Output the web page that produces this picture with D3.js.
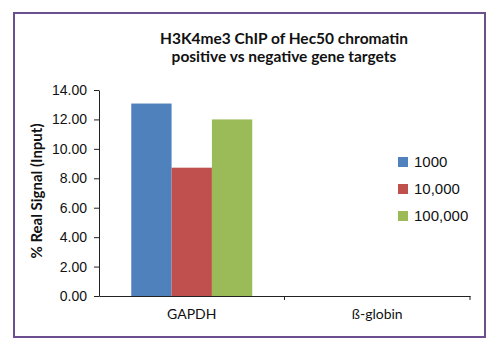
<!DOCTYPE html>
<html>
<head>
<meta charset="utf-8">
<script src="https://cdn.jsdelivr.net/npm/d3@7"></script>
<style>
  body { margin: 0; background: #fff; }
  svg text { fill: #111; }
</style>
</head>
<body>
<svg id="chart" width="504" height="351"></svg>
<script>
const categories = ["GAPDH", "ß-globin"];
const seriesNames = ["1000", "10,000", "100,000"];
const seriesColors = ["#4f81bd", "#c0504d", "#9bbb59"];
const values = [
  [13.08, 0],
  [8.72, 0],
  [12.0, 0]
];
const yTicks = [0, 2, 4, 6, 8, 10, 12, 14];
const titleLines = ["H3K4me3 ChIP of Hec50 chromatin", "positive vs negative gene targets"];

const svg = d3.select("#chart");

// frame
svg.append("rect")
  .attr("x", 14).attr("y", 13)
  .attr("width", 471).attr("height", 324)
  .attr("fill", "#fff")
  .attr("stroke", "#6b4f8e")
  .attr("stroke-width", 2);

const plot = { left: 99, right: 470, top: 90, bottom: 296 };

const x = d3.scaleBand()
  .domain(categories)
  .range([plot.left, plot.right]);

const xInner = d3.scaleBand()
  .domain(seriesNames)
  .range([0, x.bandwidth()])
  .paddingOuter(0.8);

const y = d3.scaleLinear()
  .domain([0, 14])
  .range([plot.bottom, plot.top]);

// bars
const groups = svg.append("g").selectAll("g")
  .data(categories)
  .join("g")
  .attr("transform", d => `translate(${x(d)},0)`);

groups.selectAll("rect")
  .data((c, ci) => seriesNames.map((s, si) => ({ s, si, v: values[si][ci] })))
  .join("rect")
  .attr("x", d => xInner(d.s))
  .attr("width", xInner.bandwidth())
  .attr("y", d => y(d.v))
  .attr("height", d => y(0) - y(d.v))
  .attr("fill", d => seriesColors[d.si]);

// y axis
const yAxis = svg.append("g")
  .attr("transform", `translate(${plot.left},0)`)
  .call(d3.axisLeft(y).tickValues(yTicks).tickFormat(d3.format(".2f")).tickSize(5).tickSizeOuter(0));
yAxis.select(".domain").attr("stroke", "#222");
yAxis.selectAll(".tick line").attr("stroke", "#222");
yAxis.selectAll("text")
  .attr("x", -12)
  .style("font-family", "Liberation Sans, Arial, sans-serif")
  .style("font-size", "14px")
  .attr("fill", "#111");

// x axis
const xAxis = svg.append("g")
  .attr("transform", `translate(0,${plot.bottom})`)
  .call(d3.axisBottom(x).tickSize(0).tickSizeOuter(0));
xAxis.select(".domain").attr("stroke", "#222");
xAxis.selectAll(".tick text")
  .attr("dy", "1.4em")
  .style("font-family", "Lato, Open Sans, sans-serif")
  .style("font-size", "14px")
  .attr("fill", "#111");
xAxis.selectAll(null)
  .data(x.domain().slice(1).map(d => x(d)).concat([plot.right]))
  .join("line")
  .attr("x1", d => d).attr("x2", d => d)
  .attr("y1", 0).attr("y2", 4)
  .attr("stroke", "#222");

// y label
svg.append("text")
  .attr("transform", `translate(42,${(plot.top + plot.bottom) / 2 - 2}) rotate(-90)`)
  .attr("text-anchor", "middle")
  .style("font-family", "Lato, Open Sans, sans-serif")
  .style("font-weight", "bold")
  .style("font-size", "15px")
  .text("% Real Signal (Input)");

// title
svg.append("text")
  .attr("text-anchor", "middle")
  .style("font-family", "Lato, Open Sans, sans-serif")
  .style("font-weight", "bold")
  .style("font-size", "15.5px")
  .selectAll("tspan")
  .data(titleLines)
  .join("tspan")
  .attr("x", 284)
  .attr("y", (d, i) => 44 + i * 18)
  .text(d => d);

// legend
const legend = svg.append("g").selectAll("g")
  .data(seriesNames)
  .join("g")
  .attr("transform", (d, i) => `translate(398,${162 + i * 27})`);
legend.append("rect")
  .attr("x", 0).attr("y", -5)
  .attr("width", 10).attr("height", 10)
  .attr("fill", (d, i) => seriesColors[i]);
legend.append("text")
  .attr("x", 16).attr("y", 0)
  .attr("dy", "0.36em")
  .style("font-family", "Liberation Sans, Arial, sans-serif")
  .style("font-size", "15px")
  .text(d => d);
</script>
</body>
</html>
